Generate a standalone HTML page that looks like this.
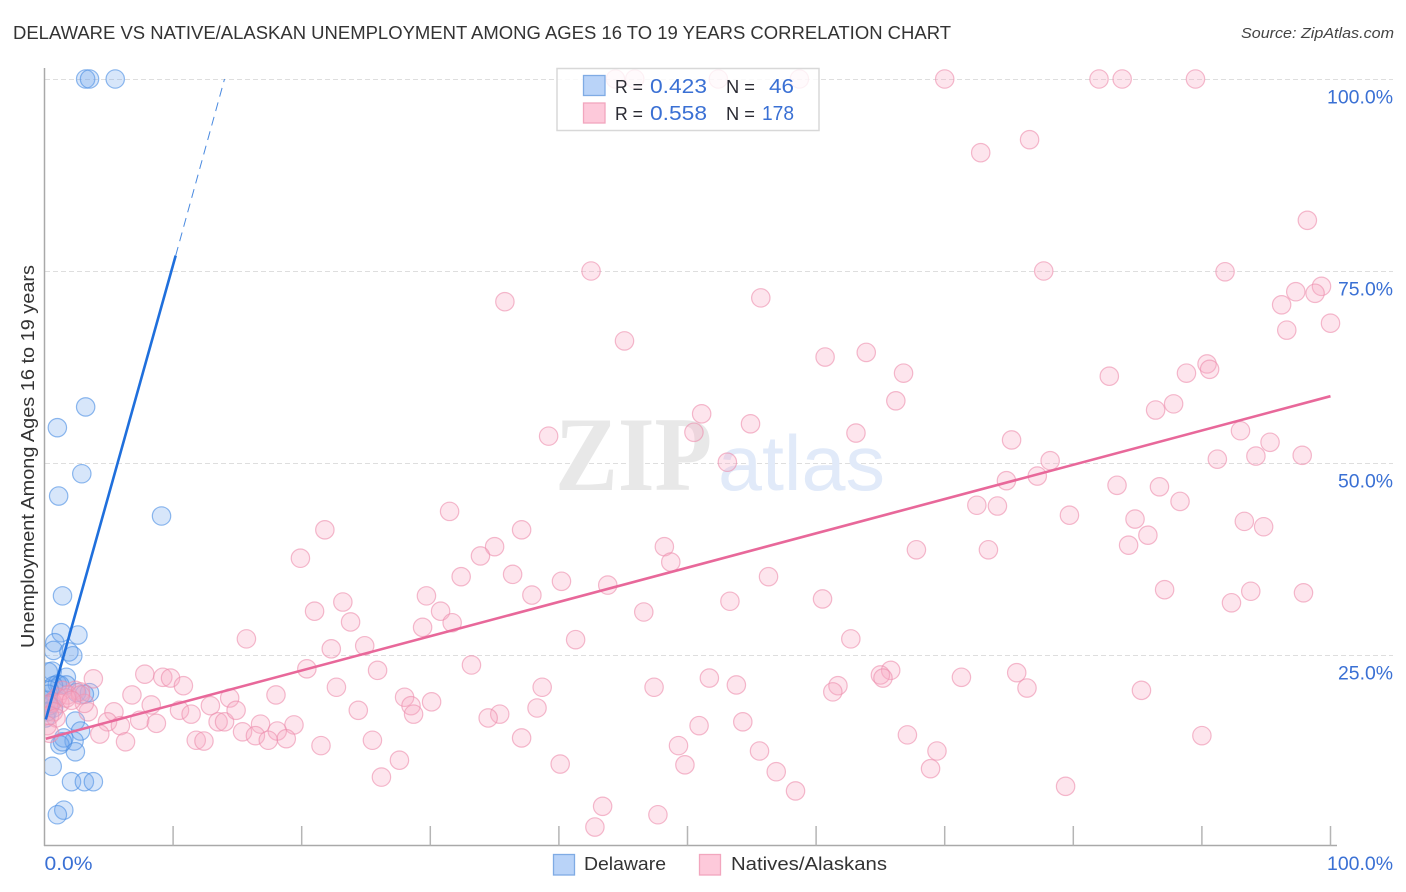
<!DOCTYPE html>
<html>
<head>
<meta charset="utf-8">
<title>Delaware vs Native/Alaskan Unemployment Correlation Chart</title>
<style>
html,body{margin:0;padding:0;background:#fff;}
svg{display:block;}
text{font-family:"Liberation Sans",sans-serif;}
</style>
</head>
<body>
<svg id="chart" xmlns="http://www.w3.org/2000/svg" width="1406" height="892" viewBox="0 0 1406 892">
  <defs>
    <clipPath id="plot-clip"><rect x="45" y="60" width="1361" height="786"/></clipPath>
  </defs>
  <rect x="0" y="0" width="1406" height="892" fill="#ffffff"/>
  <text x="13" y="39" font-size="18" fill="#333333" textLength="938" lengthAdjust="spacingAndGlyphs">DELAWARE VS NATIVE/ALASKAN UNEMPLOYMENT AMONG AGES 16 TO 19 YEARS CORRELATION CHART</text>
  <text x="1241" y="38" font-size="15" font-style="italic" fill="#444444" textLength="153" lengthAdjust="spacingAndGlyphs">Source: ZipAtlas.com</text>
  <text transform="translate(34,648) rotate(-90)" font-size="18" fill="#333333" textLength="383" lengthAdjust="spacingAndGlyphs">Unemployment Among Ages 16 to 19 years</text>
  <g id="grid"></g>
  <text x="555" y="490" font-size="106" font-weight="bold" fill="#e8e8e8" textLength="157" lengthAdjust="spacingAndGlyphs" style="font-family:'Liberation Serif',serif">ZIP</text>
  <text x="718" y="490" font-size="78" fill="#e1eaf9" textLength="167" lengthAdjust="spacingAndGlyphs">atlas</text>
  <g id="axes"></g>
  <g id="blue-points" clip-path="url(#plot-clip)"></g>
  <g id="pink-points" clip-path="url(#plot-clip)"></g>
  <g id="trends"></g>
  <g id="labels"></g>

  <g>
    <rect x="557" y="68.5" width="262" height="62" fill="#ffffff" fill-opacity="0.8" stroke="#d8d8d8" stroke-width="1.5"/>
    <rect x="583.5" y="75.5" width="21.5" height="20" fill="#b9d3f8" stroke="#7fabe4" stroke-width="1.3"/>
    <rect x="583.5" y="103" width="21.5" height="20" fill="#fdc9da" stroke="#f2a6be" stroke-width="1.3"/>
    <text x="615" y="93" font-size="18.5" fill="#2b2b33" textLength="28" lengthAdjust="spacingAndGlyphs">R =</text>
    <text x="650" y="93" font-size="20" fill="#3a70d4" textLength="57" lengthAdjust="spacingAndGlyphs">0.423</text>
    <text x="726" y="93" font-size="18.5" fill="#2b2b33" textLength="29" lengthAdjust="spacingAndGlyphs">N =</text>
    <text x="769" y="93" font-size="20" fill="#3a70d4" textLength="25" lengthAdjust="spacingAndGlyphs">46</text>
    <text x="615" y="120" font-size="18.5" fill="#2b2b33" textLength="28" lengthAdjust="spacingAndGlyphs">R =</text>
    <text x="650" y="120" font-size="20" fill="#3a70d4" textLength="57" lengthAdjust="spacingAndGlyphs">0.558</text>
    <text x="726" y="120" font-size="18.5" fill="#2b2b33" textLength="29" lengthAdjust="spacingAndGlyphs">N =</text>
    <text x="762" y="120" font-size="20" fill="#3a70d4" textLength="32" lengthAdjust="spacingAndGlyphs">178</text>
  </g>

  <g>
    <rect x="553.5" y="854.5" width="21" height="20.5" fill="#b9d3f8" stroke="#7fabe4" stroke-width="1.3"/>
    <text x="584" y="870" font-size="18.5" fill="#333333" textLength="82" lengthAdjust="spacingAndGlyphs">Delaware</text>
    <rect x="699.5" y="854.5" width="21" height="20.5" fill="#fdc9da" stroke="#f2a6be" stroke-width="1.3"/>
    <text x="731" y="870" font-size="18.5" fill="#333333" textLength="156" lengthAdjust="spacingAndGlyphs">Natives/Alaskans</text>
  </g>
</svg>

<script>
var yTickValues = [25, 50, 75, 100];
var yTickLabels = ["25.0%", "50.0%", "75.0%", "100.0%"];
var xTickValues = [10, 20, 30, 40, 50, 60, 70, 80, 90, 100];
var xEndValues = [0, 100];
var xEndLabels = ["0.0%", "100.0%"];

var delawareX = [3.2,3.5,5.5,3.2,1.0,2.9,1.1,9.1,1.4,1.3,2.6,0.8,0.7,1.9,2.2,0.6,0.3,1.7,1.0,1.2,1.7,0.7,0.4,2.5,3.5,3.1,0.2,0.4,0.7,0.1,2.4,2.8,2.3,1.5,1.2,2.4,0.6,2.1,3.1,3.8,1.5,1.0,0.3,0.2,0.5,1.4];
var delawareY = [100,100,100,57.3,54.6,48.6,45.7,43.1,32.7,27.9,27.6,26.6,25.6,25.4,24.9,22.9,22.8,22.1,21.2,21.1,21.1,21.0,20.4,20.1,20.1,19.9,19.1,18.4,18.1,16.8,16.4,15.1,13.8,14.2,13.3,12.4,10.5,8.5,8.5,8.5,4.8,4.2,19.9,17.6,18.7,13.7];

var nativesX = [44.4,45.9,52.4,58.7,70.0,82.0,83.8,89.5,72.8,76.6,98.2,42.5,77.7,91.8,99.3,97.3,98.8,96.2,35.8,55.7,100.0,96.6,45.1,60.7,63.9,66.8,82.8,88.8,90.4,90.6,66.2,87.8,86.4,51.1,54.9,93.0,39.2,50.5,63.1,75.2,95.3,94.2,91.2,97.8,53.1,78.2,77.2,74.8,83.4,86.7,88.3,72.5,74.1,31.5,79.7,84.8,93.3,94.8,21.8,37.1,85.8,84.3,35.0,48.2,67.8,73.4,19.9,33.9,48.7,36.4,32.4,56.3,40.2,43.8,87.1,93.8,97.9,29.7,37.9,23.2,53.3,60.5,92.3,21.0,30.8,46.6,23.8,31.7,29.4,15.7,41.3,62.7,22.3,24.9,65.8,20.4,33.2,25.9,7.8,9.2,9.8,3.8,10.8,22.7,65.0,65.2,71.3,75.6,76.4,51.7,53.8,47.4,38.7,61.7,61.3,85.3,6.8,18.0,14.4,28.0,30.1,24.4,38.3,8.3,10.5,12.9,11.4,28.5,28.7,35.4,34.5,5.4,3.4,7.4,8.7,13.5,14.0,14.9,16.8,19.4,18.1,4.9,5.9,15.4,16.4,17.4,18.8,11.8,12.4,4.3,6.3,21.5,25.5,37.1,90.0,54.3,50.9,67.1,49.3,69.4,55.6,49.8,40.1,68.9,27.6,26.2,56.9,58.4,79.4,43.4,47.7,42.8,2.4,1.4,1.8,2.8,1.0,3.1,2.8,0.6,1.2,0.3,0.7,0.4,0.9,0.2,0.4,1.7,2.1];
var nativesY = [100,100,100,100,100,100,100,100,90.4,92.1,81.6,75.0,75.0,74.9,73.0,72.3,72.1,70.6,71.0,71.5,68.2,67.3,65.9,63.8,64.4,61.7,61.3,61.7,62.9,62.2,58.1,57.7,56.9,56.4,55.1,54.2,53.5,54.0,53.9,53.0,52.7,50.9,50.5,51.0,50.1,50.3,48.3,47.7,47.1,46.9,45.0,44.5,44.4,43.7,43.2,42.7,42.4,41.7,41.3,41.3,40.6,39.3,39.1,39.1,38.7,38.7,37.6,37.9,37.1,35.5,35.2,35.2,34.6,34.1,33.5,33.3,33.1,32.7,32.8,31.9,32.0,32.3,31.8,30.7,30.7,30.6,29.3,29.2,28.6,27.1,27.0,27.1,25.8,26.2,23.0,23.2,23.7,23.0,22.5,22.1,22.0,21.9,21.0,20.8,22.4,22.0,22.1,22.7,20.7,22.0,21.1,20.8,20.8,21.0,20.2,20.4,19.8,19.8,19.4,19.5,18.9,17.8,18.1,18.5,17.8,18.4,17.3,18.4,17.3,17.3,16.8,17.6,17.6,16.5,16.1,16.3,16.3,17.8,16.0,15.9,15.1,16.3,15.8,15.0,14.5,13.9,14.1,13.9,13.8,14.7,13.7,13.2,13.9,14.2,14.5,16.3,15.8,14.6,13.2,12.5,12.5,10.7,10.8,10.2,11.3,9.1,9.8,7.3,7.9,5.3,4.2,2.6,20.4,20.4,19.8,20.2,19.5,18.7,19.8,18.9,18.7,18.5,17.6,17.1,16.8,15.8,14.8,19.4,19.1];

var delawareTrendX = [0.1, 10.2];
var delawareTrendY = [16.6, 77.0];
var delawareDashX = [10.2, 14.0];
var delawareDashY = [77.0, 100.0];
var nativesTrendX = [0.1, 100];
var nativesTrendY = [14.1, 58.7];

var NS = "http://www.w3.org/2000/svg";
function xScale(v) { return 44.5 + 12.86 * v; }
function yScale(v) { return 847 - 7.68 * v; }
function make(tag, attrs, parent) {
  var el = document.createElementNS(NS, tag);
  for (var k in attrs) { el.setAttribute(k, attrs[k]); }
  parent.appendChild(el);
  return el;
}

var grid = document.getElementById("grid");
yTickValues.forEach(function (v) {
  var l = make("line", {x1: 45, x2: 1393, y1: yScale(v) + 0.5, y2: yScale(v) + 0.5, stroke: "#dedede", "stroke-width": 1, "stroke-dasharray": "5 3"}, grid);
  
  
});

var axes = document.getElementById("axes");
var yAxis = make("line", {x1: 44.5, x2: 44.5, y1: 68, y2: 846, stroke: "#a9a9a9", "stroke-width": 1.5}, axes);


var xAxis = make("line", {x1: 44, x2: 1337, y1: 845.5, y2: 845.5, stroke: "#a9a9a9", "stroke-width": 1.5}, axes);


xTickValues.forEach(function (v) {
  var t = make("line", {x1: xScale(v), x2: xScale(v), y1: 826, y2: 845.5, stroke: "#b5b5b5", "stroke-width": 1.5}, axes);
  
  
});

var bluePts = document.getElementById("blue-points");
delawareX.forEach(function (x, i) {
  var c = make("circle", {cx: xScale(x), cy: yScale(delawareY[i]), r: 9.2, fill: "#6ea6ee", "fill-opacity": 0.28, stroke: "#4a8ee4", "stroke-opacity": 0.62, "stroke-width": 1.2}, bluePts);
  
  
});

var pinkPts = document.getElementById("pink-points");
nativesX.forEach(function (x, i) {
  var c = make("circle", {cx: xScale(x), cy: yScale(nativesY[i]), r: 9.2, fill: "#f8a9c2", "fill-opacity": 0.3, stroke: "#ec8cab", "stroke-opacity": 0.6, "stroke-width": 1.2}, pinkPts);
  
  
});

var trends = document.getElementById("trends");
var nt = make("line", {x1: xScale(nativesTrendX[0]), y1: yScale(nativesTrendY[0]), x2: xScale(nativesTrendX[1]), y2: yScale(nativesTrendY[1]), stroke: "#e8689a", "stroke-width": 2.6}, trends);


var dt = make("line", {x1: xScale(delawareTrendX[0]), y1: yScale(delawareTrendY[0]), x2: xScale(delawareTrendX[1]), y2: yScale(delawareTrendY[1]), stroke: "#1f6fdc", "stroke-width": 2.6}, trends);


var dd = make("line", {x1: xScale(delawareDashX[0]), y1: yScale(delawareDashY[0]), x2: xScale(delawareDashX[1]), y2: yScale(delawareDashY[1]), stroke: "#4a8ae0", "stroke-width": 1, "stroke-dasharray": "9 6"}, trends);



var labels = document.getElementById("labels");
function labelWidth(s) { return s.length === 4 ? 48 : s.length * 11; }
yTickLabels.forEach(function (s, i) {
  var t = make("text", {x: 1393, y: yScale(yTickValues[i]) + 24.5, "text-anchor": "end", "font-size": 19, fill: "#3a70d4", textLength: labelWidth(s), lengthAdjust: "spacingAndGlyphs"}, labels);
  t.textContent = s;
  
  
});
xEndLabels.forEach(function (s, i) {
  var x = i === 0 ? xScale(xEndValues[i]) : 1393;
  var t = make("text", {x: x, y: 870, "text-anchor": i === 0 ? "start" : "end", "font-size": 19, fill: "#3a70d4", textLength: labelWidth(s), lengthAdjust: "spacingAndGlyphs"}, labels);
  t.textContent = s;
  
  
});
</script>
</body>
</html>
